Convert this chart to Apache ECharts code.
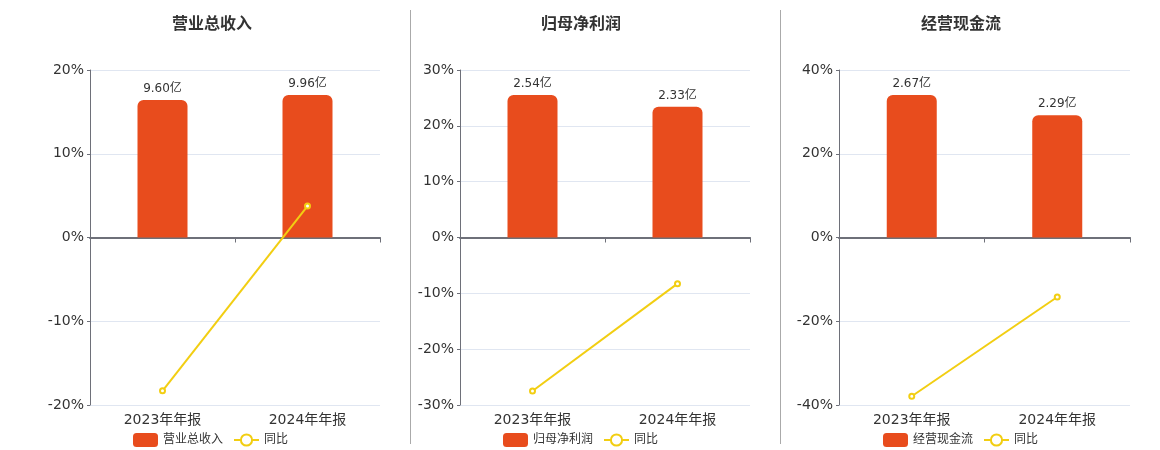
<!DOCTYPE html>
<html>
<head>
<meta charset="utf-8">
<script src="https://cdn.jsdelivr.net/npm/echarts@6/dist/echarts.min.js"></script>
<style>
html,body{margin:0;padding:0;background:#fff;}
#c{width:1160px;height:450px;}
</style>
</head>
<body>
<div id="c"></div>
<script>
const categories = ['2023年年报', '2024年年报'];
const titles = ['营业总收入', '归母净利润', '经营现金流'];
const revenue = [9.60, 9.96];
const revenueYoY = [-18.3, 3.75];
const netProfit = [2.54, 2.33];
const netProfitYoY = [-27.5, -8.27];
const cashFlow = [2.67, 2.29];
const cashFlowYoY = [-37.9, -14.2];
const pctMin = [-20, -30, -40];
const pctMax = [20, 30, 40];
const pctInterval = [10, 10, 20];
const yoyName = '同比';

const barValues = [revenue, netProfit, cashFlow];
const lineValues = [revenueYoY, netProfitYoY, cashFlowYoY];

const FONT = "'DejaVu Sans', 'Noto Sans CJK SC', sans-serif";
const BAR_COLOR = '#E84C1D';
const LINE_COLOR = '#F2CE12';
const lefts = [90, 460, 839];
const rights = [380, 750, 1130];
const titleLefts = [167, 536, 916];
const legendLefts = [128, 498, 878];
const W = 1160;

const grid = [], xAxis = [], yAxis = [], series = [], title = [], legend = [];
for (let i = 0; i < 3; i++) {
  grid.push({left: lefts[i], right: W - rights[i], top: 70, bottom: 45, containLabel: false});
  title.push({
    text: titles[i], left: titleLefts[i], top: 12,
    textStyle: {fontFamily: FONT, fontSize: 16, fontWeight: 'bold', color: '#333'}
  });
  xAxis.push({
    type: 'category', gridIndex: i, data: categories,
    axisLine: {onZero: true, onZeroAxisIndex: i * 2, lineStyle: {color: '#6E7079', width: 2}},
    axisTick: {show: true, length: 5, lineStyle: {color: '#6E7079'}},
    axisLabel: {show: false}
  });
  xAxis.push({
    type: 'category', gridIndex: i, data: categories, position: 'bottom',
    axisLine: {show: false, onZero: false}, axisTick: {show: false},
    axisLabel: {show: true, fontFamily: FONT, fontSize: 14, color: '#333', margin: 8}
  });
  yAxis.push({
    type: 'value', gridIndex: i, min: pctMin[i], max: pctMax[i], interval: pctInterval[i],
    axisLine: {show: true, lineStyle: {color: '#6E7079'}},
    axisTick: {show: true, length: 3, lineStyle: {color: '#6E7079'}},
    splitLine: {show: true, lineStyle: {color: '#E0E6F1'}},
    axisLabel: {formatter: '{value}%', fontFamily: FONT, fontSize: 14, color: '#333', margin: 6}
  });
  const bmax = Math.max(...barValues[i]) / 0.851;
  yAxis.push({
    type: 'value', gridIndex: i, min: -bmax, max: bmax, show: false,
    splitLine: {show: false}
  });
  const lname = yoyName + '\u200b'.repeat(i);
  series.push({
    name: titles[i], type: 'bar', xAxisIndex: i * 2, yAxisIndex: i * 2 + 1,
    data: barValues[i], barWidth: 50,
    itemStyle: {color: BAR_COLOR, borderRadius: [6, 6, 0, 0]},
    label: {show: true, position: 'top', distance: 5, fontFamily: FONT, fontSize: 12, color: '#333',
      formatter: p => p.value.toFixed(2) + '亿'}
  });
  series.push({
    name: lname, type: 'line', xAxisIndex: i * 2, yAxisIndex: i * 2,
    data: lineValues[i], symbol: 'emptyCircle', symbolSize: 5,
    lineStyle: {color: LINE_COLOR, width: 2},
    itemStyle: {color: LINE_COLOR, borderWidth: 1.5},
    z: 5
  });
  legend.push({
    data: [titles[i], lname],
    left: legendLefts[i], top: 428,
    orient: 'horizontal', itemWidth: 25, itemHeight: 14, itemGap: 10,
    textStyle: {fontFamily: FONT, fontSize: 12, color: '#333'}
  });
}

const chart = echarts.init(document.getElementById('c'));
chart.setOption({
  animation: false,
  backgroundColor: '#fff',
  title, grid, xAxis, yAxis, series, legend,
  graphic: [
    {type: 'line', shape: {x1: 410.5, y1: 10, x2: 410.5, y2: 444}, style: {stroke: '#AAAAAA', lineWidth: 1}},
    {type: 'line', shape: {x1: 780.5, y1: 10, x2: 780.5, y2: 444}, style: {stroke: '#AAAAAA', lineWidth: 1}}
  ]
});
</script>
</body>
</html>
